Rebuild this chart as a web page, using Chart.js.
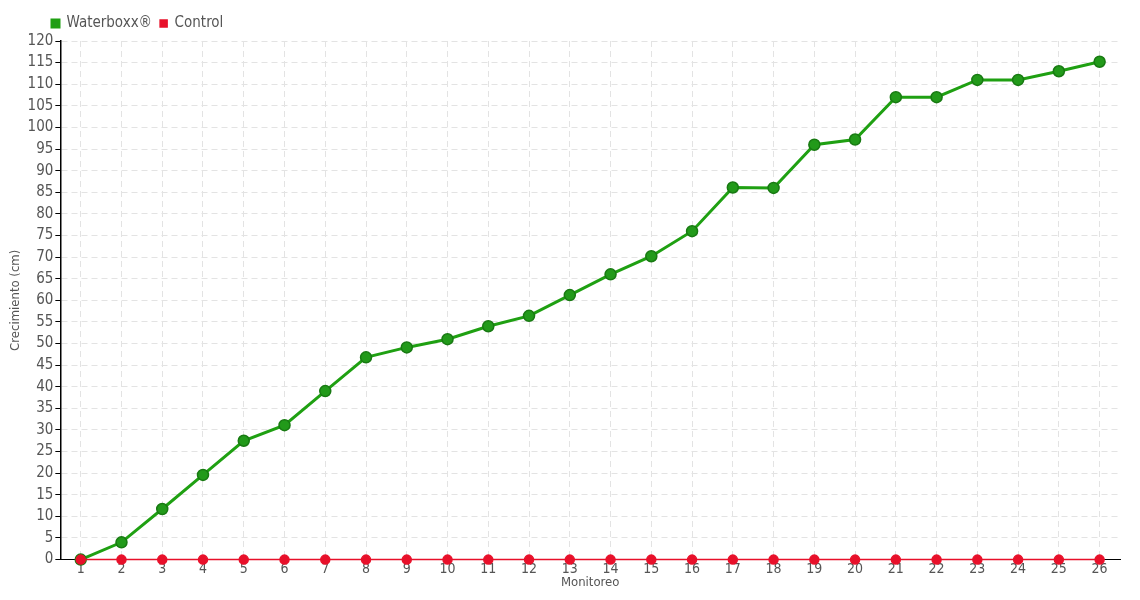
<!DOCTYPE html>
<html><head><meta charset="utf-8">
<script src="https://cdn.jsdelivr.net/npm/chart.js@4/dist/chart.umd.min.js"></script>
<style>html,body{margin:0;padding:0;background:#fff}#w{width:1140px;height:600px}</style>
</head><body><div id="w"><canvas id="c"></canvas></div>
<script>
const categories = ['1','2','3','4','5','6','7','8','9','10','11','12','13','14','15','16','17','18','19','20','21','22','23','24','25','26'];
const waterboxx = [0,4,11.7,19.6,27.5,31.1,39,46.8,49.1,51,54,56.4,61.2,66,70.2,76,86.1,86,96,97.2,107,107,111,111,113,115.2];
const control = [0,0,0,0,0,0,0,0,0,0,0,0,0,0,0,0,0,0,0,0,0,0,0,0,0,0];
const yTitle = 'Crecimiento (cm)';
const xTitle = 'Monitoreo';
const FONT = '"Liberation Sans Narrow","DejaVu Sans Condensed",sans-serif';
Chart.defaults.font.family = FONT;
Chart.defaults.color = '#555';
const legendShift = {
  id: 'legendShift',
  afterLayout(chart) { if (chart.legend) chart.legend.left += 36; }
};
new Chart(document.getElementById('c'), {
  type: 'line',
  data: {
    labels: categories,
    datasets: [
      {label: 'Waterboxx®', data: waterboxx, borderColor: '#1fa012', backgroundColor: '#229a1a',
       pointBorderColor: '#187a12', pointBorderWidth: 1.5, pointRadius: 5.5, borderWidth: 3, tension: 0, clip: false, order: 2},
      {label: 'Control', data: control, borderColor: '#e8102a', backgroundColor: '#e8102a',
       pointBorderColor: '#e8102a', pointRadius: 4.5, borderWidth: 1.5, tension: 0, clip: false, order: 1}
    ]
  },
  options: {
    responsive: true, maintainAspectRatio: false, animation: false,
    layout: {padding: {left: 8, right: 20, top: 8, bottom: 10}},
    plugins: {
      legend: {position: 'top', align: 'start',
        labels: {boxWidth: 7, boxHeight: 7, padding: 8, font: {size: 15}, color: '#555',
                 sort: (a, b) => a.datasetIndex - b.datasetIndex}},
      tooltip: {enabled: false}
    },
    scales: {
      x: {offset: true,
        grid: {color: '#e3e3e3', tickColor: '#000', tickLength: 4, drawOnChartArea: true},
        border: {color: '#000', width: 1, dash: [6,4]},
        ticks: {font: {size: 14}, color: '#555', padding: -3, maxRotation: 0, autoSkip: false},
        title: {display: true, text: xTitle, font: {size: 13}, color: '#555', padding: {top: 0, bottom: 0}}
      },
      y: {min: 0, max: 120,
        grid: {color: '#e3e3e3', tickColor: '#000', tickLength: 5},
        border: {color: '#000', width: 1.5, dash: [6,4]},
        ticks: {stepSize: 5, font: {size: 15}, color: '#555', padding: 2},
        title: {display: true, text: yTitle, font: {size: 13}, color: '#555', padding: {top: 0, bottom: 2}}
      }
    }
  },
  plugins: [legendShift]
});
</script></body></html>
